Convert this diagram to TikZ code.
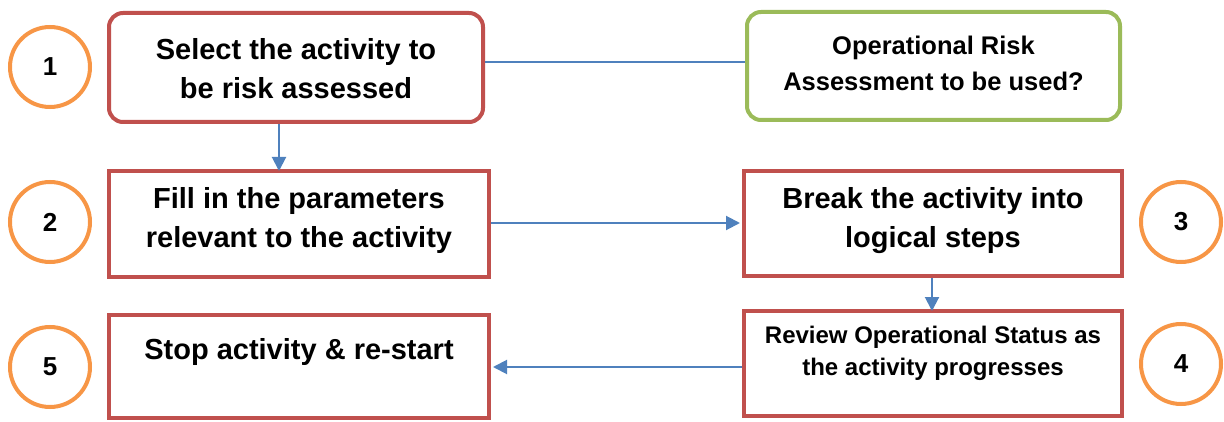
\documentclass[tikz,border=0pt]{standalone}
\usepackage{fontspec}
\setmainfont{Liberation Sans}
\usetikzlibrary{arrows.meta}
\definecolor{boxred}{HTML}{C0504D}
\definecolor{boxgreen}{HTML}{9BBB59}
\definecolor{numorange}{HTML}{F79646}
\definecolor{lineblue}{HTML}{4F81BD}
\tikzset{
  redbox/.style={draw=boxred, line width=4pt, rectangle, fill=white, inner sep=0pt},
  greenbox/.style={draw=boxgreen, line width=4pt, rectangle, rounded corners=14pt, fill=white, inner sep=0pt},
  numcircle/.style={draw=numorange, line width=4pt, circle, minimum size=80pt, inner sep=0pt, font=\fontsize{26pt}{28pt}\selectfont\bfseries},
  bigtxt/.style={align=center, inner sep=0pt, font=\fontsize{29pt}{39pt}\selectfont\bfseries},
  midtxt/.style={align=center, inner sep=0pt, font=\fontsize{25.5pt}{36pt}\selectfont\bfseries},
  smalltxt/.style={align=center, inner sep=0pt, font=\fontsize{24pt}{32pt}\selectfont\bfseries},
  conn/.style={draw=lineblue, line width=2pt},
  arr/.style={conn, -{Triangle[length=14pt,width=14pt]}},
}
\begin{document}
\begin{tikzpicture}[x=1pt,y=-1pt]
\useasboundingbox (0,0) rectangle (1224,422);
% boxes
\node[redbox, rounded corners=14pt, minimum width=374pt, minimum height=109pt] (b1) at (296,67.5) {};
\node[greenbox, minimum width=373pt, minimum height=108pt] (g) at (933.5,66) {};
\node[redbox, minimum width=380pt, minimum height=106pt] (b2) at (299,224) {};
\node[redbox, minimum width=378pt, minimum height=105pt] (b3) at (933,223.5) {};
\node[redbox, minimum width=378pt, minimum height=105pt] (b4) at (933,363.5) {};
\node[redbox, minimum width=380pt, minimum height=103pt] (b5) at (299,366.5) {};
% texts
\node[bigtxt] (t1) at (296,68.5) {Select the activity to\\be risk assessed};
\node[midtxt] (tg) at (933.5,63.5) {Operational Risk\\Assessment to be used?};
\node[bigtxt] (t2) at (299,221) {Fill in the parameters\\relevant to the activity};
\node[bigtxt] (t3) at (933,221) {Break the activity into\\logical steps};
\node[smalltxt] (t4) at (933,353) {Review Operational Status as\\the activity progresses};
\node[bigtxt] (t5) at (299,352) {Stop activity \& re-start};
% circles
\node[numcircle] (n1) at (50,67) {1};
\node[numcircle] (n2) at (50,222) {2};
\node[numcircle] (n5) at (50,367) {5};
\node[numcircle] (n3) at (1181,222) {3};
\node[numcircle] (n4) at (1181,364) {4};
% connectors
\coordinate (c1) at (279,62);
\coordinate (c2) at (495,223);
\coordinate (c3) at (932,300);
\coordinate (c4) at (737,367);
\draw[conn] (b1.east |- c1) -- (g.west |- c1);
\draw[arr] (b1.south -| c1) -- ([yshift=-2pt]b2.north -| c1);
\draw[arr] (b2.east |- c2) -- ([xshift=-2pt]b3.west |- c2);
\draw[arr] (b3.south -| c3) -- ([yshift=-2pt]b4.north -| c3);
\draw[arr] (b4.west |- c4) -- ([xshift=2pt]b5.east |- c4);
\end{tikzpicture}
\end{document}
